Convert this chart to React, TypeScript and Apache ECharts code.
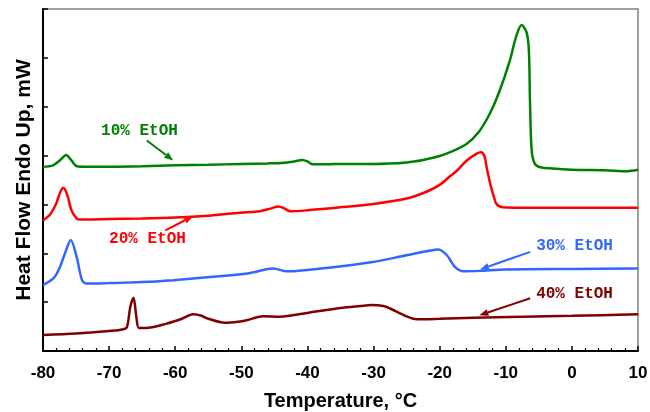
import React, { useEffect, useRef } from "react";
import * as echarts from "echarts";

const xTicks = { min: -80, max: 10, interval: 10 };

const etoh10: [number, number][] = [
  [-80, 3.77], [-78.5, 3.8], [-77.3, 3.92], [-76.5, 4.01], [-75.7, 3.9], [-75, 3.79], [-74, 3.77],
  [-70, 3.77], [-65, 3.78], [-60, 3.8], [-55, 3.81], [-50, 3.83], [-46, 3.84], [-44, 3.85],
  [-42, 3.88], [-40.8, 3.91], [-40, 3.88], [-39.2, 3.82], [-37, 3.82], [-35, 3.83], [-30, 3.83],
  [-25, 3.86], [-22.5, 3.91], [-20, 3.99], [-18.4, 4.07], [-16, 4.23], [-14, 4.5], [-12.4, 4.86],
  [-11, 5.3], [-9.4, 5.94], [-8.4, 6.45], [-7.6, 6.67], [-6.85, 6.52], [-6.5, 6.14], [-6.34, 5.12],
  [-6.08, 4.1], [-5.6, 3.83], [-4.8, 3.76], [-3.5, 3.74], [0, 3.71], [5, 3.7], [8.3, 3.68], [10, 3.71],
];

const etoh20: [number, number][] = [
  [-80, 2.67], [-78.9, 2.8], [-78, 3.02], [-77.4, 3.25], [-76.9, 3.34], [-76.3, 3.18], [-75.7, 2.88],
  [-74.9, 2.71], [-74.4, 2.69], [-70, 2.7], [-65, 2.71], [-60, 2.73], [-55, 2.77], [-50.2, 2.83],
  [-47.2, 2.86], [-45.5, 2.92], [-44.4, 2.96], [-43.5, 2.92], [-42.6, 2.86], [-40, 2.88], [-35, 2.94],
  [-30, 3.01], [-25, 3.12], [-22, 3.26], [-20, 3.4], [-18.5, 3.57], [-17.4, 3.69], [-15.9, 3.9],
  [-14.4, 4.04], [-13.75, 4.07], [-13.2, 3.98], [-12.9, 3.76], [-12.4, 3.45], [-11.9, 3.2], [-11.4, 3.01],
  [-10.4, 2.94], [-5, 2.93], [0, 2.93], [10, 2.93],
];

const etoh30: [number, number][] = [
  [-80, 1.35], [-78.4, 1.49], [-77.5, 1.7], [-76.7, 1.99], [-75.8, 2.27], [-74.9, 1.92], [-74.1, 1.45],
  [-73.4, 1.38], [-70, 1.39], [-65, 1.41], [-60.3, 1.45], [-54.3, 1.52], [-50, 1.57], [-48.2, 1.61],
  [-45.2, 1.69], [-43.1, 1.63], [-40, 1.66], [-35.1, 1.73], [-30.1, 1.82], [-25, 1.96], [-22, 2.04],
  [-20.2, 2.08], [-18.9, 1.96], [-17.7, 1.72], [-16.4, 1.63], [-14, 1.64], [-9.9, 1.67], [0, 1.68],
  [10, 1.69],
];

const etoh40: [number, number][] = [
  [-80, 0.33], [-75, 0.36], [-70, 0.41], [-68, 0.44], [-67.3, 0.49], [-66.8, 0.9], [-66.3, 1.09],
  [-65.9, 0.72], [-65.5, 0.47], [-64.5, 0.47], [-61.3, 0.56], [-59, 0.66], [-57.3, 0.75], [-56, 0.72],
  [-55.2, 0.67], [-52.5, 0.58], [-50.5, 0.6], [-49.2, 0.63], [-46.7, 0.71], [-44.2, 0.7], [-40, 0.78],
  [-35, 0.88], [-32, 0.92], [-30.3, 0.94], [-28.5, 0.92], [-27.5, 0.87], [-25.2, 0.72], [-23.5, 0.65],
  [-20, 0.66], [-14.9, 0.68], [0, 0.72], [10, 0.75],
];

const seriesNames = ["10% EtOH", "20% EtOH", "30% EtOH", "40% EtOH"];
const seriesColors = ["#008000", "#FF0000", "#3366FF", "#800000"];

// annotation label centre, arrow start, arrow end (data units)
const labelPos: [number, number][] = [[-65.4, 4.5], [-64.2, 2.3], [0.4, 2.14], [0.4, 1.16]];
const arrowFrom: [number, number][] = [[-64.3, 4.31], [-61.5, 2.47], [-6.3, 2.03], [-6.3, 1.08]];
const arrowTo: [number, number][] = [[-60.3, 3.9], [-57.3, 2.76], [-13.9, 1.67], [-14.0, 0.73]];

export default function App() {
  const ref = useRef<HTMLDivElement>(null);
  useEffect(() => {
    if (!ref.current) return;
    const chart = echarts.init(ref.current, null, { renderer: "svg" });
    const data = [etoh10, etoh20, etoh30, etoh40];
    chart.setOption({
      animation: false,
      grid: {
        left: 43, right: 12, top: 9, bottom: 61,
        outerBoundsMode: "none",
        containLabel: false,
        show: true, borderColor: "#808080", borderWidth: 1.5, backgroundColor: "transparent",
      },
      xAxis: {
        type: "value",
        min: xTicks.min, max: xTicks.max, interval: xTicks.interval,
        name: "Temperature, °C",
        nameLocation: "middle",
        nameGap: 39,
        nameTextStyle: { fontFamily: "'Liberation Sans', Arial", fontWeight: "bold", fontSize: 20, color: "#000" },
        axisLine: { show: true, onZero: false, lineStyle: { color: "#000", width: 2 } },
        axisTick: { show: true, inside: true, length: 5, lineStyle: { color: "#000", width: 1.5 } },
        minorTick: { show: true, splitNumber: 5, length: 3, lineStyle: { color: "#000", width: 1.2 } },
        splitLine: { show: false },
        axisLabel: {
          margin: 13, fontFamily: "'Liberation Sans', Arial", fontWeight: "bold", fontSize: 17, color: "#000",
        },
      },
      yAxis: {
        type: "value",
        min: 0, max: 7, interval: 1,
        name: "Heat Flow Endo Up, mW",
        nameLocation: "middle",
        nameGap: 10,
        nameTextStyle: { fontFamily: "'Liberation Sans', Arial", fontWeight: "bold", fontSize: 21, color: "#000" },
        axisLine: { show: true, onZero: false, lineStyle: { color: "#000", width: 2 } },
        axisTick: { show: true, inside: true, length: 5, lineStyle: { color: "#000", width: 1.5 } },
        splitLine: { show: false },
        axisLabel: { show: false },
      },
      series: data.map((d, i) => ({
        name: seriesNames[i],
        type: "line",
        data: d,
        showSymbol: false,
        smooth: 0.3,
        lineStyle: { color: seriesColors[i], width: 2.5 },
        itemStyle: { color: seriesColors[i] },
      })),
    });

    const px = (p: [number, number]) => chart.convertToPixel({ gridIndex: 0 }, p) as number[];
    const graphics: any[] = [];
    seriesNames.forEach((name, i) => {
      const c = seriesColors[i];
      const lp = px(labelPos[i]);
      graphics.push({
        type: "text", x: lp[0], y: lp[1], z: 10,
        style: {
          text: name, fill: c, align: "center", verticalAlign: "middle",
          fontFamily: "'Liberation Mono', 'Courier New', monospace", fontWeight: "bold", fontSize: 16,
        },
      });
      const s = px(arrowFrom[i]);
      const e = px(arrowTo[i]);
      const ang = Math.atan2(e[1] - s[1], e[0] - s[0]);
      const L = 9, W = 3.5;
      const bx = e[0] - L * Math.cos(ang), by = e[1] - L * Math.sin(ang);
      graphics.push({
        type: "line", z: 10,
        shape: { x1: s[0], y1: s[1], x2: bx, y2: by },
        style: { stroke: c, lineWidth: 2 },
      });
      graphics.push({
        type: "polygon", z: 10,
        shape: {
          points: [
            [e[0], e[1]],
            [bx - W * Math.sin(ang), by + W * Math.cos(ang)],
            [bx + W * Math.sin(ang), by - W * Math.cos(ang)],
          ],
        },
        style: { fill: c },
      });
    });
    chart.setOption({ graphic: graphics });
    return () => chart.dispose();
  }, []);
  return <div ref={ref} style={{ position: "fixed", left: 0, top: 0, width: 650, height: 412 }} />;
}
